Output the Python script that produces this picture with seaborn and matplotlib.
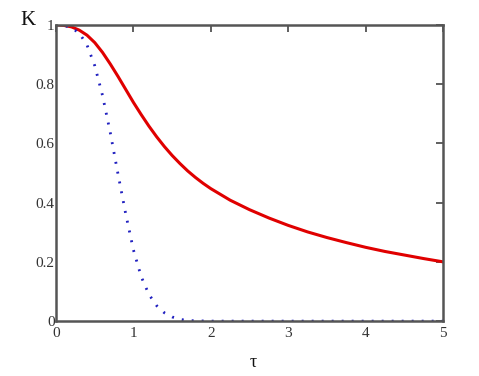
import pandas as pd
import seaborn as sns
import matplotlib.pyplot as plt

# values
tau_red = [0.0, 0.1, 0.2, 0.3, 0.4, 0.5, 0.6, 0.7, 0.8, 0.9, 1.0, 1.1, 1.2, 1.3,
           1.4, 1.5, 1.6, 1.7, 1.8, 1.9, 2.0, 2.25, 2.5, 2.75, 3.0, 3.25, 3.5,
           3.75, 4.0, 4.25, 4.5, 4.75, 5.0]
k_red = [1.0, 0.998, 0.993, 0.982, 0.965, 0.94, 0.907, 0.868, 0.826, 0.782, 0.738,
         0.697, 0.658, 0.622, 0.589, 0.559, 0.532, 0.507, 0.485, 0.465, 0.447,
         0.408, 0.376, 0.348, 0.323, 0.301, 0.282, 0.265, 0.249, 0.235, 0.223,
         0.211, 0.2]

tau_blue = [0.0, 0.1, 0.2, 0.3, 0.4, 0.5, 0.6, 0.7, 0.8, 0.9, 1.0, 1.1, 1.2, 1.3,
            1.4, 1.5, 1.6, 1.7, 1.8, 2.0, 3.0, 4.0, 5.0]
k_blue = [1.0, 0.998, 0.99, 0.972, 0.932, 0.862, 0.762, 0.637, 0.497, 0.362, 0.24,
          0.15, 0.09, 0.052, 0.028, 0.014, 0.006, 0.002, 0.001, 0.0, 0.0, 0.0, 0.0]

df_red = pd.DataFrame({"tau": tau_red, "K": k_red})
df_blue = pd.DataFrame({"tau": tau_blue, "K": k_blue})

sns.set_style("white")
plt.rcParams['font.family'] = ['Liberation Serif', 'DejaVu Serif']

fig = plt.figure(figsize=(4.79, 3.76), dpi=100)
ax = fig.add_axes([0.117, 0.146, 0.808, 0.788])

sns.lineplot(data=df_red, x="tau", y="K", ax=ax, color="#e00000", linewidth=2.2)
sns.lineplot(data=df_blue, x="tau", y="K", ax=ax, color="#2020c0", linewidth=2.0,
             linestyle=(0, (0.7, 2.9)), dash_capstyle="butt")

ax.set_xlim(0, 5)
ax.set_ylim(0, 1)
ax.set_xticks([0, 1, 2, 3, 4, 5])
ax.set_yticks([0, 0.2, 0.4, 0.6, 0.8, 1])
ax.set_xticklabels(["0", "1", "2", "3", "4", "5"])
ax.set_yticklabels(["0", "0.2", "0.4", "0.6", "0.8", "1"])
ax.tick_params(axis="both", direction="in", length=5, width=1.2, color="#444444",
               labelsize=11, labelcolor="#333333", pad=1)
ax.tick_params(axis="x", top=True, pad=4)
ax.tick_params(axis="y", right=True)

for s in ax.spines.values():
    s.set_color("#555555")
    s.set_linewidth(1.8)

ax.set_xlabel("")
ax.set_ylabel("")
fig.text(0.058, 0.945, "K", fontsize=15, ha="center", va="center", color="#111111")
fig.text(0.528, 0.035, "τ", fontsize=13, ha="center", va="center", color="#111111")

fig.savefig("out.png", dpi=100)
